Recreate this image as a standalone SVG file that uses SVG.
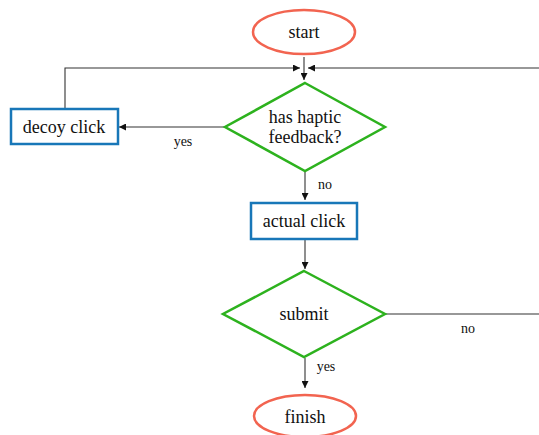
<svg xmlns="http://www.w3.org/2000/svg" width="539" height="435" viewBox="0 0 539 435">
<style>
.term{fill:#fff;stroke:#f26450;stroke-width:2.5}
.dec{fill:#fff;stroke:#2db21e;stroke-width:2.5}
.proc{fill:#fff;stroke:#1877b8;stroke-width:2.5}
.t{font-family:"Liberation Serif",serif;font-size:18px;fill:#111;text-anchor:middle}
.l{font-family:"Liberation Serif",serif;font-size:14px;fill:#111;text-anchor:middle}
.c{fill:none;stroke:#333;stroke-width:1.1}
</style>
<defs>
<marker id="ah" viewBox="0 0 10 10" refX="10" refY="5" markerWidth="7" markerHeight="7" markerUnits="userSpaceOnUse" orient="auto">
<path d="M0,0 L10,5 L0,10 z" fill="#111"/>
</marker>
</defs>
<rect width="539" height="435" fill="#fff"/>
<g id="connectors">
<path class="c" d="M304,57 V80" marker-end="url(#ah)"/>
<path class="c" d="M65,109 V68 H300" marker-end="url(#ah)"/>
<path class="c" d="M539,68 H308" marker-end="url(#ah)"/>
<path class="c" d="M225,127 H119" marker-end="url(#ah)"/>
<text class="l" x="183" y="146">yes</text>
<path class="c" d="M305,172 V200" marker-end="url(#ah)"/>
<text class="l" x="325" y="189">no</text>
<path class="c" d="M305,240 V269" marker-end="url(#ah)"/>
<path class="c" d="M386,314 H539"/>
<text class="l" x="468" y="333">no</text>
<path class="c" d="M305,358 V388" marker-end="url(#ah)"/>
<text class="l" x="326" y="371">yes</text>
</g>
<g id="start">
<ellipse class="term" cx="304" cy="32" rx="51" ry="22"/>
<text class="t" x="304" y="38">start</text>
</g>
<g id="haptic">
<polygon class="dec" points="305,83 385,127 305,171 225,127"/>
<text class="t" x="305" y="123">has haptic</text>
<text class="t" x="305" y="143">feedback?</text>
</g>
<g id="decoy">
<rect class="proc" x="11" y="109" width="107" height="35"/>
<text class="t" x="64" y="133">decoy click</text>
</g>
<g id="actual">
<rect class="proc" x="251" y="203" width="106" height="36"/>
<text class="t" x="304" y="227">actual click</text>
</g>
<g id="submit">
<polygon class="dec" points="304,271 385,314 304,357 223,314"/>
<text class="t" x="304" y="320">submit</text>
</g>
<g id="finish">
<ellipse class="term" cx="305" cy="416" rx="51" ry="21"/>
<text class="t" x="305" y="423">finish</text>
</g>
</svg>
